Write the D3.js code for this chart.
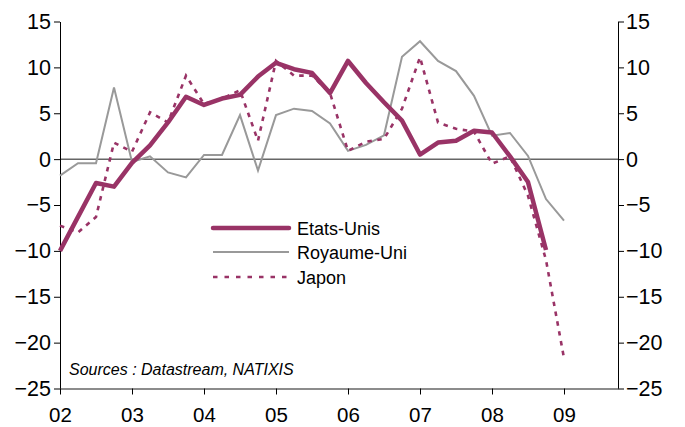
<!DOCTYPE html>
<html><head><meta charset="utf-8">
<script src="https://cdn.jsdelivr.net/npm/d3@7"></script>
<style>
html,body{margin:0;padding:0;background:#fff;}
svg{display:block;}
text{font-family:"Liberation Sans",Arial,sans-serif;fill:#000;}
</style></head>
<body>
<script>
// Data (quarterly, starting 2002 Q1)
const quarters = d3.range(0, 29).map(i => 2002 + i * 0.25);
const etatsUnis = [-10, -6.3, -2.6, -3.0, -0.4, 1.5, 4.0, 6.8, 5.9, 6.6, 7.0, 9.0, 10.5, 9.8, 9.4, 7.2, 10.7, 8.3, 6.2, 4.2, 0.5, 1.8, 2.0, 3.1, 2.9, 0.3, -2.5, -9.9];
const royaumeUni = [-1.8, -0.45, -0.45, 7.8, -0.3, 0.3, -1.45, -2.0, 0.45, 0.45, 4.8, -1.25, 4.8, 5.5, 5.25, 3.9, 0.9, 1.55, 2.6, 11.15, 12.85, 10.7, 9.6, 6.9, 2.55, 2.85, 0.35, -4.35, -6.7];
const japon = [-7.25, -8.0, -6.3, 1.8, 0.8, 5.1, 4.0, 9.1, 6.0, 6.6, 7.5, 2.0, 10.7, 9.1, 9.1, 7.2, 0.9, 1.9, 2.2, 5.5, 11.1, 4.0, 3.3, 3.0, -0.5, 0.3, -4.0, -11.0, -21.7];
const yearTicks = [2002, 2003, 2004, 2005, 2006, 2007, 2008, 2009];
const yearLabels = ["02", "03", "04", "05", "06", "07", "08", "09"];
const yTicks = [15, 10, 5, 0, -5, -10, -15, -20, -25];
const seriesNames = ["Etats-Unis", "Royaume-Uni", "Japon"];
const sourceText = "Sources : Datastream, NATIXIS";

const W = 685, H = 427;
const x = d3.scaleLinear().domain([2002, 2009.75]).range([60, 618]);
const y = d3.scaleLinear().domain([-25, 15]).range([388.5, 21.5]);

const svg = d3.select("body").append("svg").attr("width", W).attr("height", H);

const plum = "#993366", grey = "#999999";

// zero line
svg.append("line").attr("x1", x(2002)).attr("x2", x(2009.75))
  .attr("y1", y(0)).attr("y2", y(0)).attr("stroke", "#666").attr("stroke-width", 1.5);

// axes
const fs = 21.5;
const gL = svg.append("g").attr("transform", `translate(${x(2002)},0)`)
  .call(d3.axisLeft(y).tickValues(yTicks).tickSize(6).tickPadding(3).tickSizeOuter(0));
const gR = svg.append("g").attr("transform", `translate(${x(2009.75)},0)`)
  .call(d3.axisRight(y).tickValues(yTicks).tickSize(6).tickPadding(2).tickSizeOuter(0));
const gB = svg.append("g").attr("transform", `translate(0,${y(-25)})`)
  .call(d3.axisBottom(x).tickValues(yearTicks).tickFormat((d, i) => yearLabels[i]).tickSize(6).tickPadding(13).tickSizeOuter(0));
[gL, gR].forEach(g => {
  g.select(".domain").attr("stroke", "#000").attr("stroke-width", 1);
  g.selectAll(".tick line").attr("stroke", "#000");
  g.selectAll("text").attr("font-size", fs).attr("font-family", "Liberation Sans, Arial, sans-serif").attr("fill", "#000");
});
gB.select(".domain").attr("stroke", "#666").attr("stroke-width", 1.5);
gB.selectAll(".tick line").attr("stroke", "#000");
gB.selectAll("text").attr("font-size", 20.5).attr("font-family", "Liberation Sans, Arial, sans-serif").attr("fill", "#000");

// lines
const line = d3.line().x((d, i) => x(quarters[i])).y(d => y(d));
svg.append("path").datum(royaumeUni).attr("d", line).attr("fill", "none")
  .attr("stroke", grey).attr("stroke-width", 2);
svg.append("path").datum(japon).attr("d", line).attr("fill", "none")
  .attr("stroke", plum).attr("stroke-width", 2.6).attr("stroke-dasharray", "4.5,5.5");
svg.append("path").datum(etatsUnis).attr("d", line).attr("fill", "none")
  .attr("stroke", plum).attr("stroke-width", 4.5).attr("stroke-linejoin", "round");

// legend
const legStyles = [
  {stroke: plum, width: 4.5, dash: null},
  {stroke: grey, width: 2, dash: null},
  {stroke: plum, width: 2.6, dash: "4.5,7"}
];
const legY = [228, 252, 277];
seriesNames.forEach((n, i) => {
  const s = legStyles[i];
  const l = svg.append("line").attr("x1", 213).attr("x2", 289).attr("y1", legY[i]).attr("y2", legY[i])
    .attr("stroke", s.stroke).attr("stroke-width", s.width).attr("stroke-linecap", i === 0 ? "round" : "butt");
  if (s.dash) l.attr("stroke-dasharray", s.dash);
  svg.append("text").attr("x", 297).attr("y", legY[i] + 5).attr("font-size", 18)
    .attr("dy", "0.1em").text(n);
});

// source
svg.append("text").attr("x", 69).attr("y", 375).attr("font-size", 16).attr("font-style", "italic").text(sourceText);
</script>
</body></html>
